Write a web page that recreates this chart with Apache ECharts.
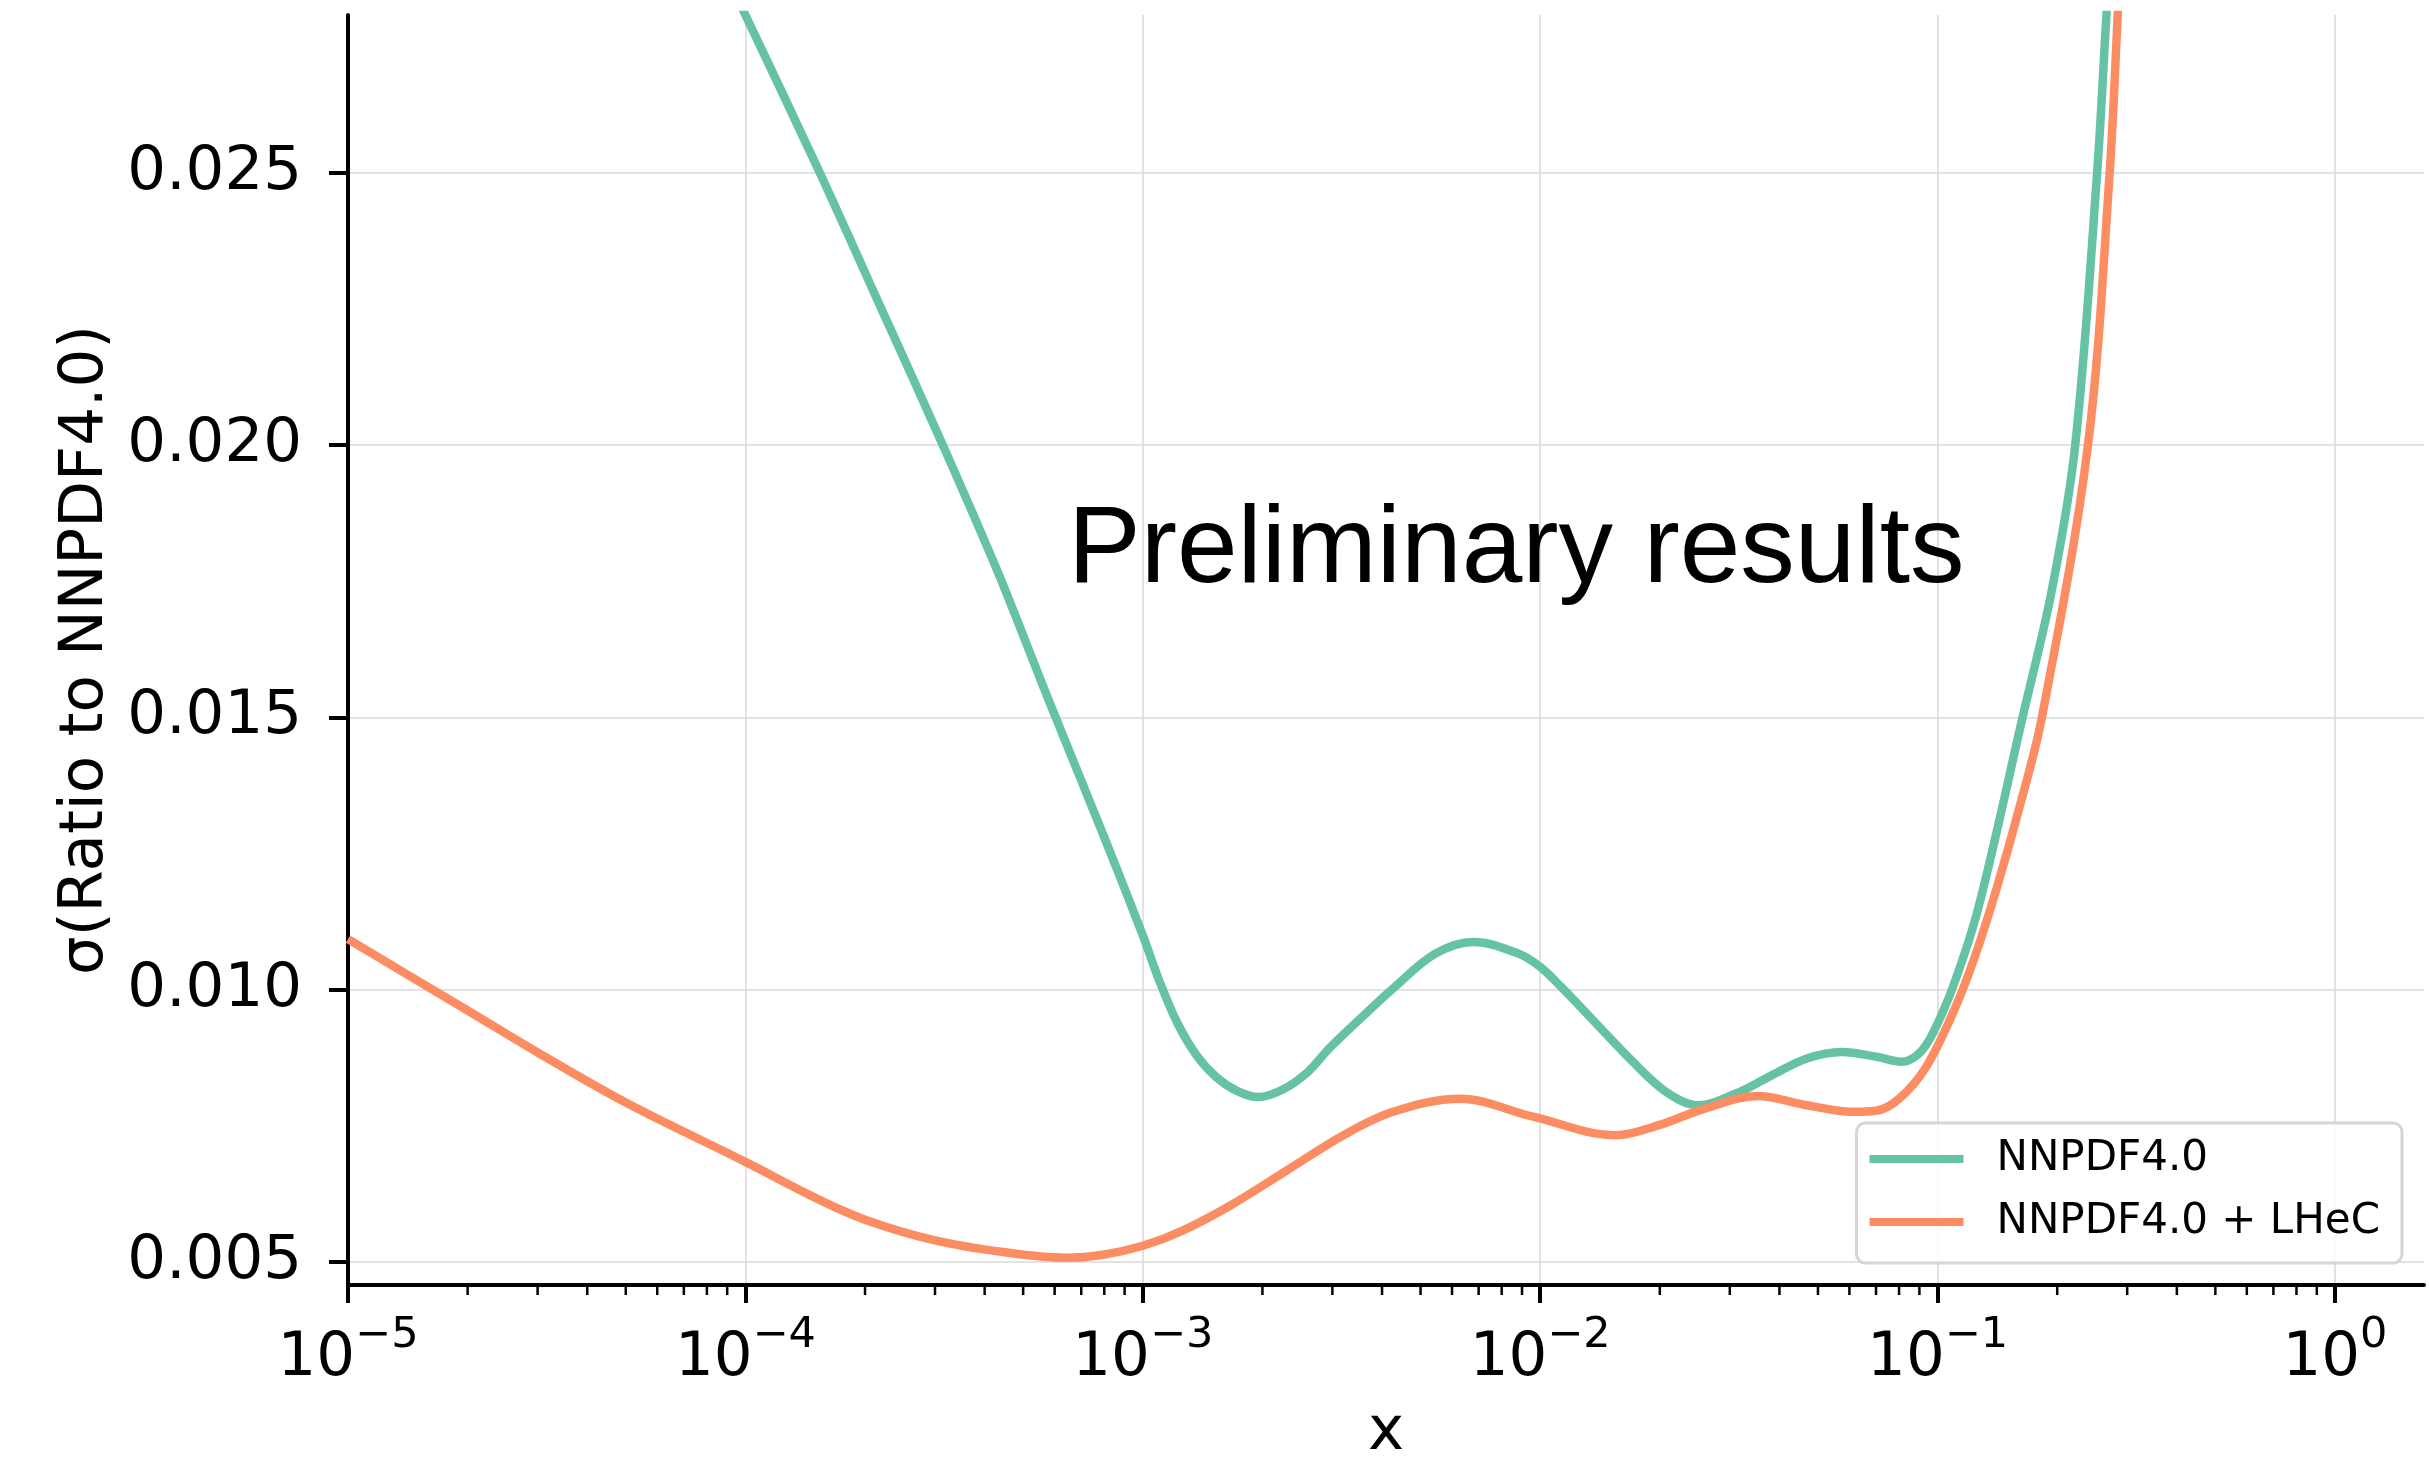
<!DOCTYPE html>
<html><head><meta charset="utf-8">
<script src="https://cdn.jsdelivr.net/npm/echarts@6/dist/echarts.min.js"></script>
<style>html,body{margin:0;padding:0;background:#fff}#c{width:2429px;height:1458px}</style>
</head><body><div id="c"></div>
<script>
// ---- data ----
const xNNPDF = [8e-5, 1.0e-4, 1.54e-4, 2.2e-4, 3.14e-4, 4.3e-4, 5.81e-4, 8.0e-4, 1.0e-3, 1.096e-3, 1.22e-3, 1.365e-3, 1.53e-3, 1.72e-3, 1.95e-3, 2.25e-3, 2.6e-3, 2.951e-3, 3.622e-3, 4.256e-3, 5.433e-3, 6.792e-3, 8.851e-3, 1.0e-2, 1.13e-2, 1.384e-2, 1.694e-2, 2.08e-2, 2.495e-2, 3.119e-2, 3.824e-2, 4.688e-2, 5.741e-2, 7.031e-2, 8.11e-2, 8.974e-2, 9.727e-2, 0.110, 0.1268, 0.1636, 0.194, 0.222, 0.252, 0.266, 0.28];
const yNNPDF = [0.0294, 0.0279, 0.0250, 0.0225, 0.0200, 0.0177, 0.0153, 0.0128, 0.0110, 0.0102, 0.0094, 0.00880, 0.0084, 0.00815, 0.00803, 0.00817, 0.00849, 0.00893, 0.00955, 0.01002, 0.01066, 0.01088, 0.01066, 0.01042, 0.01005, 0.00938, 0.00871, 0.00812, 0.00788, 0.00810, 0.00843, 0.00874, 0.00886, 0.00877, 0.00868, 0.00883, 0.00920, 0.01011, 0.01152, 0.0150, 0.01735, 0.0200, 0.0250, 0.0279, 0.0306];

const xLHeC = [1e-5, 2e-5, 3e-5, 5e-5, 1e-4, 1.5e-4, 2e-4, 3e-4, 4.5e-4, 6.4e-4, 8e-4, 1e-3, 1.26e-3, 1.67e-3, 2.3e-3, 3.2e-3, 4.26e-3, 6.27e-3, 9.6e-3, 1.55e-2, 2.0e-2, 2.55e-2, 3.52e-2, 4.69e-2, 6.1e-2, 7.0e-2, 8.0e-2, 9.35e-2, 0.110, 0.124, 0.140, 0.160, 0.183, 0.239, 0.271, 0.284, 0.30];
const yLHeC = [0.01093, 0.00962, 0.00885, 0.00793, 0.00684, 0.00618, 0.00578, 0.00540, 0.00518, 0.00508, 0.00514, 0.00530, 0.00558, 0.00605, 0.00668, 0.00733, 0.00776, 0.00800, 0.00767, 0.00733, 0.00752, 0.00780, 0.00805, 0.00788, 0.00776, 0.00778, 0.00800, 0.00858, 0.00962, 0.0106, 0.0118, 0.0133, 0.0150, 0.0200, 0.0250, 0.0279, 0.0313];

const xMajorTicks = [1e-5, 1e-4, 1e-3, 1e-2, 1e-1, 1];
const yTicks = [0.005, 0.010, 0.015, 0.020, 0.025];
const seriesNames = ['NNPDF4.0', 'NNPDF4.0 + LHeC'];
const xName = 'x';
const yName = 'σ(Ratio to NNPDF4.0)';
const annotation = 'Preliminary results';

const X_MIN = 1e-5, X_MAX = 1.675, Y_MIN = 0.00458, Y_MAX = 0.0279;

// minor tick positions (2..9 x each decade)
const xMinorTicks = [];
for (let e = -5; e <= 0; e++) for (let m = 2; m <= 9; m++) {
  const v = m * Math.pow(10, e);
  if (v < X_MAX) xMinorTicks.push(v);
}

const FONT = 'DejaVu Sans';
const chart = echarts.init(document.getElementById('c'), null, {renderer: 'canvas'});
chart.setOption({
  animation: false,
  backgroundColor: '#fff',
  grid: {left: 348, right: 5, top: 15, bottom: 173, containLabel: false, outerBoundsMode: 'none'},
  legend: {
    data: seriesNames, orient: 'vertical', right: 27, bottom: 195,
    padding: [15, 22, 20, 13], itemWidth: 94, itemHeight: 8, itemGap: 21, icon: 'rect',
    backgroundColor: 'rgba(255,255,255,0.85)', borderColor: '#d6d6d6', borderWidth: 3, borderRadius: 9,
    selectedMode: false,
    textStyle: {fontSize: 42, fontFamily: FONT, color: '#000', padding: [0, 0, 0, 28]}
  },
  xAxis: {
    type: 'log', logBase: 10, min: X_MIN, max: X_MAX,
    name: xName, nameLocation: 'middle', nameGap: 118,
    nameTextStyle: {fontSize: 61, fontFamily: FONT, color: '#000'},
    axisLine: {show: true, onZero: false, lineStyle: {color: '#000', width: 4}},
    axisTick: {show: true, length: 18, customValues: xMajorTicks, lineStyle: {color: '#000', width: 4}},
    minorTick: {show: false},
    splitLine: {show: true, lineStyle: {color: '#d8d8d8', width: 1.5}},
    axisLabel: {
      show: true, customValues: xMajorTicks, margin: 29, color: '#000',
      formatter: function (v) {
        const e = Math.round(Math.log10(v));
        return '{b|10}{s|' + (e < 0 ? '\u2212' + (-e) : String(e)) + '}';
      },
      rich: {
        b: {fontSize: 61, fontFamily: FONT, color: '#000', lineHeight: 76, verticalAlign: 'bottom'},
        s: {fontSize: 43, fontFamily: FONT, color: '#000', lineHeight: 43, verticalAlign: 'top'}
      }
    }
  },
  yAxis: {
    type: 'value', min: Y_MIN, max: Y_MAX,
    name: yName, nameLocation: 'middle', nameGap: 229, nameRotate: 90,
    nameTextStyle: {fontSize: 61, fontFamily: FONT, color: '#000'},
    axisLine: {show: true, lineStyle: {color: '#000', width: 4}},
    axisTick: {show: true, length: 19, customValues: yTicks, lineStyle: {color: '#000', width: 4}},
    splitLine: {show: true, lineStyle: {color: '#d8d8d8', width: 1.5}},
    axisLabel: {
      customValues: yTicks, margin: 46, fontSize: 61, fontFamily: FONT, color: '#000',
      formatter: v => v.toFixed(3)
    }
  },
  graphic: [{
    type: 'text', left: 1068, top: 497, z: 100,
    style: {text: annotation, font: '109px "Liberation Sans"', fill: '#000'}
  }],
  series: [
    {
      name: seriesNames[0], type: 'line', showSymbol: false, smooth: 0.35, clip: true,
      data: xNNPDF.map((x, i) => [x, yNNPDF[i]]),
      lineStyle: {color: '#66c2a5', width: 8.5}, itemStyle: {color: '#66c2a5'}
    },
    {
      name: seriesNames[1], type: 'line', showSymbol: false, smooth: 0.35, clip: true,
      data: xLHeC.map((x, i) => [x, yLHeC[i]]),
      lineStyle: {color: '#fc8d62', width: 8.5}, itemStyle: {color: '#fc8d62'}
    },
    {
      name: 'minorTicks', type: 'custom', silent: true, clip: false, z: 10,
      data: xMinorTicks.map(v => [v, Y_MIN]),
      renderItem: function (params, api) {
        const p = api.coord([api.value(0), api.value(1)]);
        return {type: 'line', shape: {x1: p[0], y1: p[1], x2: p[0], y2: p[1] + 10},
                style: {stroke: '#000', lineWidth: 2.5}};
      }
    }
  ]
});
</script>
</body></html>
